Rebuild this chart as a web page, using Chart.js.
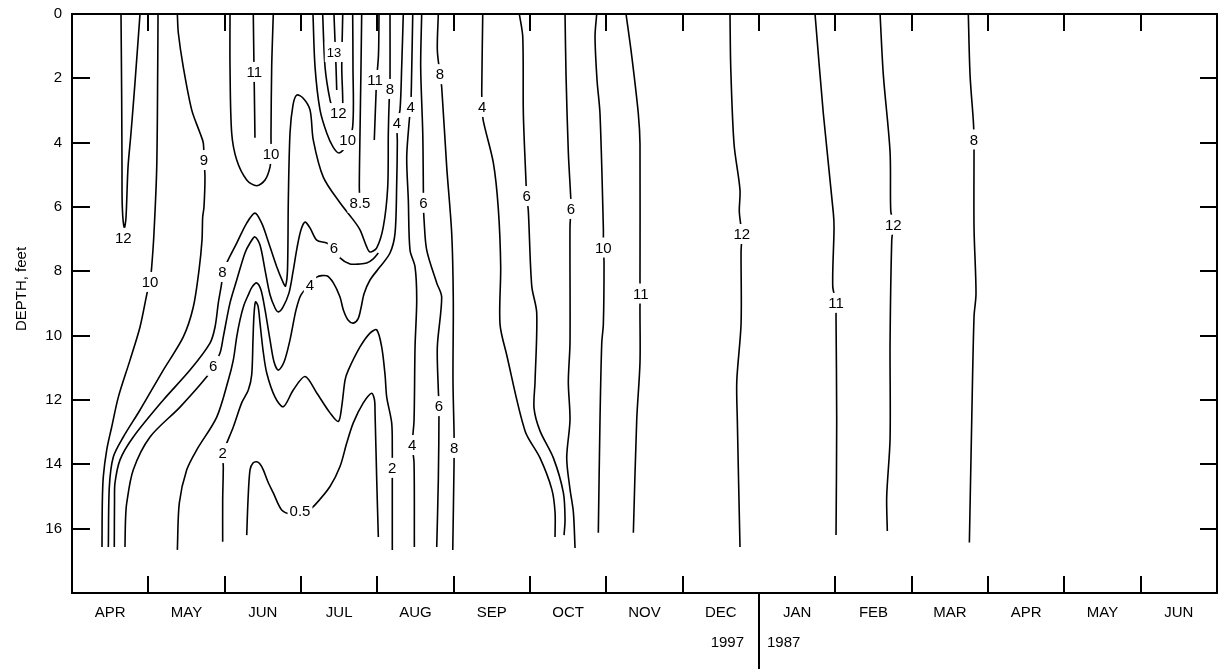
<!DOCTYPE html>
<html>
<head>
<meta charset="utf-8">
<script src="https://cdn.jsdelivr.net/npm/chart.js@4.4.1/dist/chart.umd.min.js"></script>
<style>
  html, body { margin: 0; padding: 0; background: #fff; }
  canvas { display: block; }
</style>
</head>
<body>
<canvas id="depthChart" width="1225" height="669"></canvas>
<script>
// month axis: 0 = start of April 1997, one unit per month
const MONTHS = ['APR', 'MAY', 'JUN', 'JUL', 'AUG', 'SEP', 'OCT', 'NOV', 'DEC', 'JAN', 'FEB', 'MAR', 'APR', 'MAY', 'JUN'];
const DEPTH_TICKS = [0, 2, 4, 6, 8, 10, 12, 14, 16];
const YEAR_BREAK = 9;

// contour lines, [month, depth in feet]
const apr12 = [[0.642,0],[0.651,2.67],[0.655,4.76],[0.659,6.0],[0.685,6.65],[0.707,6.34],[0.734,4.76],[0.773,3.70],[0.825,2.14],[0.891,0]];
const apr10 = [[1.127,0],[1.123,1.65],[1.110,4.76],[1.074,6.81],[1.044,7.86],[1.022,8.33],[0.987,8.64],[0.891,9.73],[0.760,10.76],[0.607,11.91],[0.520,12.84],[0.455,13.55],[0.410,14.39],[0.397,15.20],[0.393,16.57]];
const may9 = [[1.380,0],[1.393,0.59],[1.458,1.65],[1.568,2.98],[1.677,3.70],[1.720,4.01],[1.729,4.54],[1.742,5.07],[1.729,6.0],[1.712,6.31],[1.703,7.03],[1.664,7.96],[1.589,9.11],[1.458,10.04],[1.196,11.07],[0.891,12.31],[0.672,13.15],[0.541,13.77],[0.489,14.70],[0.476,16.57]];
const line8 = [[0.554,16.57],[0.557,15.11],[0.563,14.58],[0.629,13.86],[0.803,13.15],[1.196,12.0],[1.546,11.07],[1.808,10.23],[1.874,9.73],[1.917,8.98],[1.961,8.36],[1.972,8.02],[2.044,7.65],[2.158,7.12],[2.289,6.50],[2.397,6.19],[2.485,6.50],[2.551,6.93],[2.682,7.86],[2.768,8.36],[2.797,8.46],[2.823,7.96],[2.834,5.78],[2.856,3.70],[2.895,2.83],[2.944,2.52],[3.026,2.61],[3.118,2.98],[3.161,3.92],[3.292,5.07],[3.511,5.87],[3.685,6.40],[3.773,6.71],[3.861,7.24],[3.904,7.40],[3.992,7.27],[4.078,6.62],[4.136,5.38],[4.144,3.70],[4.157,2.58],[4.166,2.33],[4.166,0]];
const line6 = [[0.694,16.57],[0.701,15.73],[0.717,15.20],[0.803,14.17],[1.022,13.15],[1.415,12.22],[1.765,11.28],[1.851,10.94],[1.939,10.54],[1.982,10.04],[2.070,8.98],[2.158,8.27],[2.266,7.43],[2.332,7.12],[2.397,6.93],[2.463,7.18],[2.529,7.96],[2.594,8.73],[2.660,9.14],[2.703,9.26],[2.764,9.11],[2.843,8.67],[2.895,8.02],[2.948,7.27],[3.000,6.71],[3.053,6.47],[3.118,6.65],[3.206,7.03],[3.337,7.12],[3.432,7.27],[3.511,7.58],[3.642,7.77],[3.773,7.77],[3.861,7.74],[3.943,7.62],[4.013,7.43]];
const line4 = [[1.380,16.66],[1.406,15.20],[1.503,14.17],[1.634,13.55],[1.896,12.53],[2.048,11.38],[2.113,10.76],[2.158,10.04],[2.201,9.51],[2.253,9.05],[2.310,8.73],[2.358,8.49],[2.420,8.36],[2.476,8.58],[2.529,9.20],[2.594,10.13],[2.647,10.82],[2.703,11.07],[2.778,10.82],[2.856,10.13],[2.935,9.20],[3.000,8.73],[3.118,8.42],[3.206,8.18],[3.337,8.14],[3.424,8.36],[3.511,8.80],[3.555,9.20],[3.616,9.51],[3.685,9.61],[3.747,9.48],[3.786,9.14],[3.826,8.70],[3.904,8.27],[4.035,7.86],[4.166,7.43],[4.232,6.81],[4.254,5.25],[4.262,3.98],[4.258,3.39],[4.297,2.98],[4.319,1.65],[4.340,0]];
const line2 = [[1.974,16.41],[1.974,15.11],[1.982,14.08],[1.974,13.65],[2.027,13.34],[2.113,12.84],[2.223,12.09],[2.310,11.69],[2.354,11.22],[2.371,10.13],[2.384,9.36],[2.404,8.95],[2.437,9.08],[2.463,9.61],[2.502,10.44],[2.551,11.16],[2.660,11.91],[2.768,12.21],[2.899,11.69],[3.053,11.27],[3.206,11.78],[3.380,12.40],[3.489,12.67],[3.533,12.21],[3.577,11.38],[3.620,11.07],[3.773,10.35],[3.904,9.92],[3.992,9.82],[4.057,10.35],[4.101,11.22],[4.123,11.91],[4.188,12.71],[4.196,13.55],[4.196,14.11],[4.196,14.49],[4.196,16.66]];
const line05 = [[2.289,16.20],[2.306,15.11],[2.332,14.17],[2.371,13.96],[2.420,13.92],[2.463,13.99],[2.506,14.17],[2.568,14.55],[2.637,14.89],[2.747,15.42],[2.870,15.55],[2.987,15.50],[3.100,15.42],[3.184,15.26],[3.380,14.69],[3.511,14.07],[3.599,13.34],[3.685,12.71],[3.816,12.09],[3.926,11.79],[3.963,12.0],[3.970,12.40],[3.992,14.49],[4.013,16.26]];
const jun10 = [[2.070,0],[2.070,1.65],[2.092,3.70],[2.158,4.54],[2.289,5.16],[2.420,5.34],[2.529,5.16],[2.594,4.76],[2.607,4.35],[2.607,3.70],[2.616,1.65],[2.637,0]];
const jun11 = [[2.375,0],[2.384,1.65],[2.388,2.27],[2.397,3.85]];
const jul10 = [[3.157,0],[3.184,1.65],[3.249,2.98],[3.337,3.70],[3.419,4.13],[3.498,4.32],[3.590,4.10],[3.677,3.51],[3.681,1.65],[3.677,0]];
const jul12 = [[3.284,0],[3.315,1.65],[3.380,2.67],[3.432,3.05],[3.485,3.17],[3.531,2.98],[3.547,2.77],[3.534,1.65],[3.547,0]];
const jul13 = [[3.432,0],[3.445,0.81],[3.458,1.59],[3.468,2.36]];
const jul85 = [[3.795,0],[3.786,1.65],[3.773,3.70],[3.764,5.38],[3.773,5.87]];
const aug11 = [[4.022,0],[4.015,1.27],[3.990,2.05],[3.983,2.46],[3.960,3.92]];
const aug4 = [[4.464,0],[4.451,1.65],[4.438,2.89],[4.419,3.30],[4.385,4.45],[4.406,5.78],[4.428,7.34],[4.494,7.86],[4.516,8.89],[4.494,10.35],[4.481,12.62],[4.458,13.40],[4.481,13.96],[4.485,16.57]];
const aug6 = [[4.581,0],[4.568,1.65],[4.595,3.70],[4.603,5.47],[4.603,5.87],[4.612,6.40],[4.647,7.34],[4.778,8.36],[4.843,8.80],[4.786,10.35],[4.799,11.69],[4.808,12.19],[4.799,14.49],[4.778,16.57]];
const aug8 = [[4.799,0],[4.786,1.12],[4.821,1.87],[4.843,2.27],[4.909,4.76],[4.974,6.81],[4.995,8.89],[4.991,11.38],[5.005,13.02],[5.005,13.49],[5.005,13.96],[4.988,16.66]];
const sep4 = [[5.381,0],[5.368,2.36],[5.372,2.89],[5.389,3.33],[5.520,4.63],[5.585,6.06],[5.616,7.86],[5.607,9.64],[5.695,10.60],[5.935,12.96],[6.131,13.80],[6.285,14.77],[6.328,15.48],[6.328,16.26]];
const sep6 = [[5.860,0],[5.905,0.71],[5.913,3.10],[5.948,5.24],[5.957,5.66],[5.978,6.12],[6.023,8.46],[6.088,9.29],[6.066,11.44],[6.053,12.26],[6.131,12.96],[6.306,13.80],[6.437,14.88],[6.459,15.72],[6.446,16.20]];
const oct6 = [[6.459,0],[6.472,1.90],[6.502,4.29],[6.534,5.72],[6.537,6.06],[6.524,6.62],[6.524,10.23],[6.502,11.44],[6.524,12.62],[6.481,13.80],[6.524,14.77],[6.568,15.48],[6.590,16.60]];
const nov10 = [[6.874,0],[6.852,0.71],[6.878,2.05],[6.917,3.10],[6.961,6.67],[6.961,7.26],[6.970,7.74],[6.961,9.64],[6.940,10.23],[6.917,12.62],[6.895,16.13]];
const nov11 = [[7.258,0],[7.333,1.31],[7.419,3.10],[7.441,4.04],[7.441,8.33],[7.450,8.69],[7.441,9.05],[7.441,10.83],[7.398,12.62],[7.354,16.13]];
const dec12 = [[8.620,0],[8.630,1.67],[8.673,4.04],[8.751,5.47],[8.742,6.15],[8.774,6.84],[8.765,7.40],[8.765,9.64],[8.709,11.41],[8.716,12.62],[8.751,16.57]];
const jan11 = [[9.734,0],[9.843,3.10],[9.974,6.19],[9.983,6.67],[9.966,8.46],[10.009,8.98],[10.009,9.41],[10.018,12.62],[10.009,16.20]];
const feb12 = [[10.586,0],[10.629,1.90],[10.717,4.29],[10.726,6.12],[10.760,6.55],[10.739,7.03],[10.717,10.23],[10.717,13.21],[10.673,15.00],[10.681,16.07]];
const mar8 = [[11.742,0],[11.765,1.90],[11.808,3.33],[11.817,3.90],[11.817,4.29],[11.817,6.65],[11.843,8.69],[11.817,9.41],[11.787,12.62],[11.756,16.43]];

const CONTOURS = [apr12, apr10, may9, line8, line6, line4, line2, line05, jun10, jun11, jul10, jul12, jul13, jul85, aug11,
  aug4, aug6, aug8, sep4, sep6, oct6, nov10, nov11, dec12, jan11, feb12, mar8];

// contour labels: [text, month, depth]
const LABELS = [
  ['12', 0.672, 6.96], ['10', 1.022, 8.33], ['9', 1.729, 4.54], ['11', 2.388, 1.80], ['10', 2.607, 4.35],
  ['8', 1.972, 8.02], ['6', 1.851, 10.94], ['2', 1.974, 13.65], ['13', 3.432, 1.18], ['12', 3.489, 3.08],
  ['10', 3.612, 3.92], ['11', 3.970, 2.05], ['8', 4.166, 2.33], ['8.5', 3.773, 5.87], ['6', 3.432, 7.27],
  ['4', 3.118, 8.42], ['4', 4.258, 3.39], ['4', 4.438, 2.89], ['0.5', 2.987, 15.44], ['2', 4.196, 14.11],
  ['4', 4.458, 13.40], ['6', 4.603, 5.87], ['6', 4.808, 12.19], ['8', 4.821, 1.87], ['8', 5.005, 13.49],
  ['4', 5.372, 2.89], ['6', 5.957, 5.66], ['6', 6.537, 6.06], ['10', 6.961, 7.26], ['11', 7.450, 8.69],
  ['12', 8.774, 6.84], ['11', 10.009, 8.98], ['12', 10.760, 6.55], ['8', 11.817, 3.90]
];

const FONT = '"Liberation Sans", Arial, Helvetica, sans-serif';

const contourLabels = {
  id: 'contourLabels',
  afterDatasetsDraw(chart) {
    const { ctx, scales: { x, y } } = chart;
    ctx.save();
    ctx.textAlign = 'center';
    ctx.textBaseline = 'middle';
    LABELS.forEach(([txt, m, d]) => {
      const px = x.getPixelForValue(m);
      const py = y.getPixelForValue(d);
      ctx.font = (txt === '13' ? '13px ' : '15px ') + FONT;
      const w = ctx.measureText(txt).width + 4;
      ctx.fillStyle = '#fff';
      ctx.fillRect(px - w / 2, py - 10, w, 20);
      ctx.fillStyle = '#000';
      ctx.fillText(txt, px, py + 1);
    });
    ctx.restore();
  }
};

const frame = {
  id: 'frame',
  afterDraw(chart) {
    const { ctx, chartArea: { left, right, top, bottom }, scales: { x, y } } = chart;
    ctx.save();
    ctx.strokeStyle = '#000';
    ctx.lineWidth = 2;
    ctx.strokeRect(left, top, right - left, bottom - top);
    ctx.beginPath();
    for (let i = 1; i < MONTHS.length; i++) {
      const px = Math.round(x.getPixelForValue(i));
      ctx.moveTo(px, top);
      ctx.lineTo(px, top + 17);
      ctx.moveTo(px, bottom);
      ctx.lineTo(px, i === YEAR_BREAK ? chart.height : bottom - 17);
    }
    DEPTH_TICKS.slice(1).forEach(v => {
      const py = Math.round(y.getPixelForValue(v));
      ctx.moveTo(left, py);
      ctx.lineTo(left + 18, py);
      ctx.moveTo(right, py);
      ctx.lineTo(right - 17, py);
    });
    ctx.stroke();

    const bx = x.getPixelForValue(YEAR_BREAK);
    ctx.fillStyle = '#000';
    ctx.font = '15px ' + FONT;
    ctx.textBaseline = 'middle';
    ctx.textAlign = 'right';
    ctx.fillText('1997', bx - 15, 643);
    ctx.textAlign = 'left';
    ctx.fillText('1987', bx + 8, 643);

    ctx.translate(22, 289);
    ctx.rotate(-Math.PI / 2);
    ctx.textAlign = 'center';
    ctx.fillText('DEPTH, feet', 0, 0);
    ctx.restore();
  }
};

new Chart(document.getElementById('depthChart'), {
  type: 'scatter',
  data: {
    datasets: CONTOURS.map(c => ({
      data: c.map(p => ({ x: p[0], y: p[1] })),
      showLine: true,
      borderColor: '#000',
      borderWidth: 1.6,
      pointRadius: 0,
      tension: 0.3,
      fill: false
    }))
  },
  options: {
    responsive: false,
    animation: false,
    layout: { padding: { top: 14, right: 8, left: 0, bottom: 0 } },
    plugins: { legend: { display: false }, tooltip: { enabled: false } },
    scales: {
      x: {
        type: 'linear',
        min: 0,
        max: MONTHS.length,
        grid: { display: false, drawTicks: false },
        border: { display: false },
        afterBuildTicks: s => { s.ticks = MONTHS.map((m, i) => ({ value: i + 0.5 })); },
        afterFit: s => { s.height = 76; s.paddingLeft = 0; s.paddingRight = 0; },
        ticks: {
          autoSkip: false,
          maxRotation: 0,
          padding: 11,
          color: '#000',
          font: { family: FONT, size: 15 },
          callback: (v, i) => MONTHS[i]
        }
      },
      y: {
        type: 'linear',
        reverse: true,
        min: 0,
        max: 18,
        grid: { display: false, drawTicks: false },
        border: { display: false },
        afterBuildTicks: s => { s.ticks = DEPTH_TICKS.map(v => ({ value: v })); },
        afterFit: s => { s.width = 72; s.paddingTop = 0; s.paddingBottom = 0; },
        ticks: {
          padding: 10,
          color: '#000',
          font: { family: FONT, size: 15 }
        }
      }
    }
  },
  plugins: [contourLabels, frame]
});
</script>
</body>
</html>
